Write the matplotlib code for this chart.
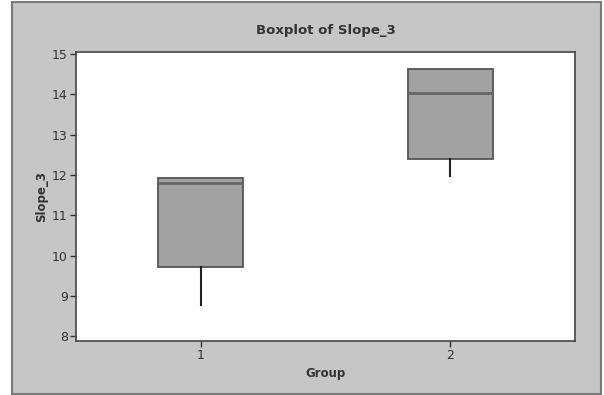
import matplotlib.pyplot as plt
from matplotlib.patches import Rectangle

groups = [1, 2]
whis_low = [8.77, 11.98]
q1 = [9.71, 12.40]
medians = [11.80, 14.04]
q3 = [11.93, 14.62]
whis_high = [11.93, 14.62]

stats = []
for g, lo, a, m, b, hi in zip(groups, whis_low, q1, medians, q3, whis_high):
    stats.append(dict(label=str(g), whislo=lo, q1=a, med=m, q3=b, whishi=hi, fliers=[]))

fig = plt.figure(figsize=(6.04, 3.95), dpi=100)
fig.patch.set_facecolor("white")
fig.patches.append(Rectangle((12 / 604, 1 / 395), 589 / 604, 392 / 395,
                             transform=fig.transFigure, facecolor="#c6c6c6",
                             edgecolor="#7a7a7a", linewidth=1.5, zorder=-10))

ax = fig.add_axes([76 / 604, 54 / 395, 499 / 604, 289 / 395])
ax.set_facecolor("white")

ax.bxp(stats, positions=groups, widths=0.34, patch_artist=True, showcaps=False,
       boxprops=dict(facecolor="#a2a2a2", edgecolor="#555555", linewidth=1.3),
       medianprops=dict(color="#666666", linewidth=2),
       whiskerprops=dict(color="#222222", linewidth=1.5))

ax.set_xlim(0.5, 2.5)
ax.set_ylim(7.88, 15.05)
ax.set_yticks(range(8, 16))
ax.tick_params(labelsize=9, colors="#333333", length=4, width=1, pad=2)
for s in ax.spines.values():
    s.set_color("#444444")
    s.set_linewidth(1.2)

ax.set_title("Boxplot of Slope_3", fontsize=9.5, fontweight="bold", color="#333333", pad=13)
ax.set_xlabel("Group", fontsize=8.5, fontweight="bold", color="#333333", labelpad=3)
ax.set_ylabel("Slope_3", fontsize=8.5, fontweight="bold", color="#333333", labelpad=3)

fig.savefig("out.png", dpi=100)
